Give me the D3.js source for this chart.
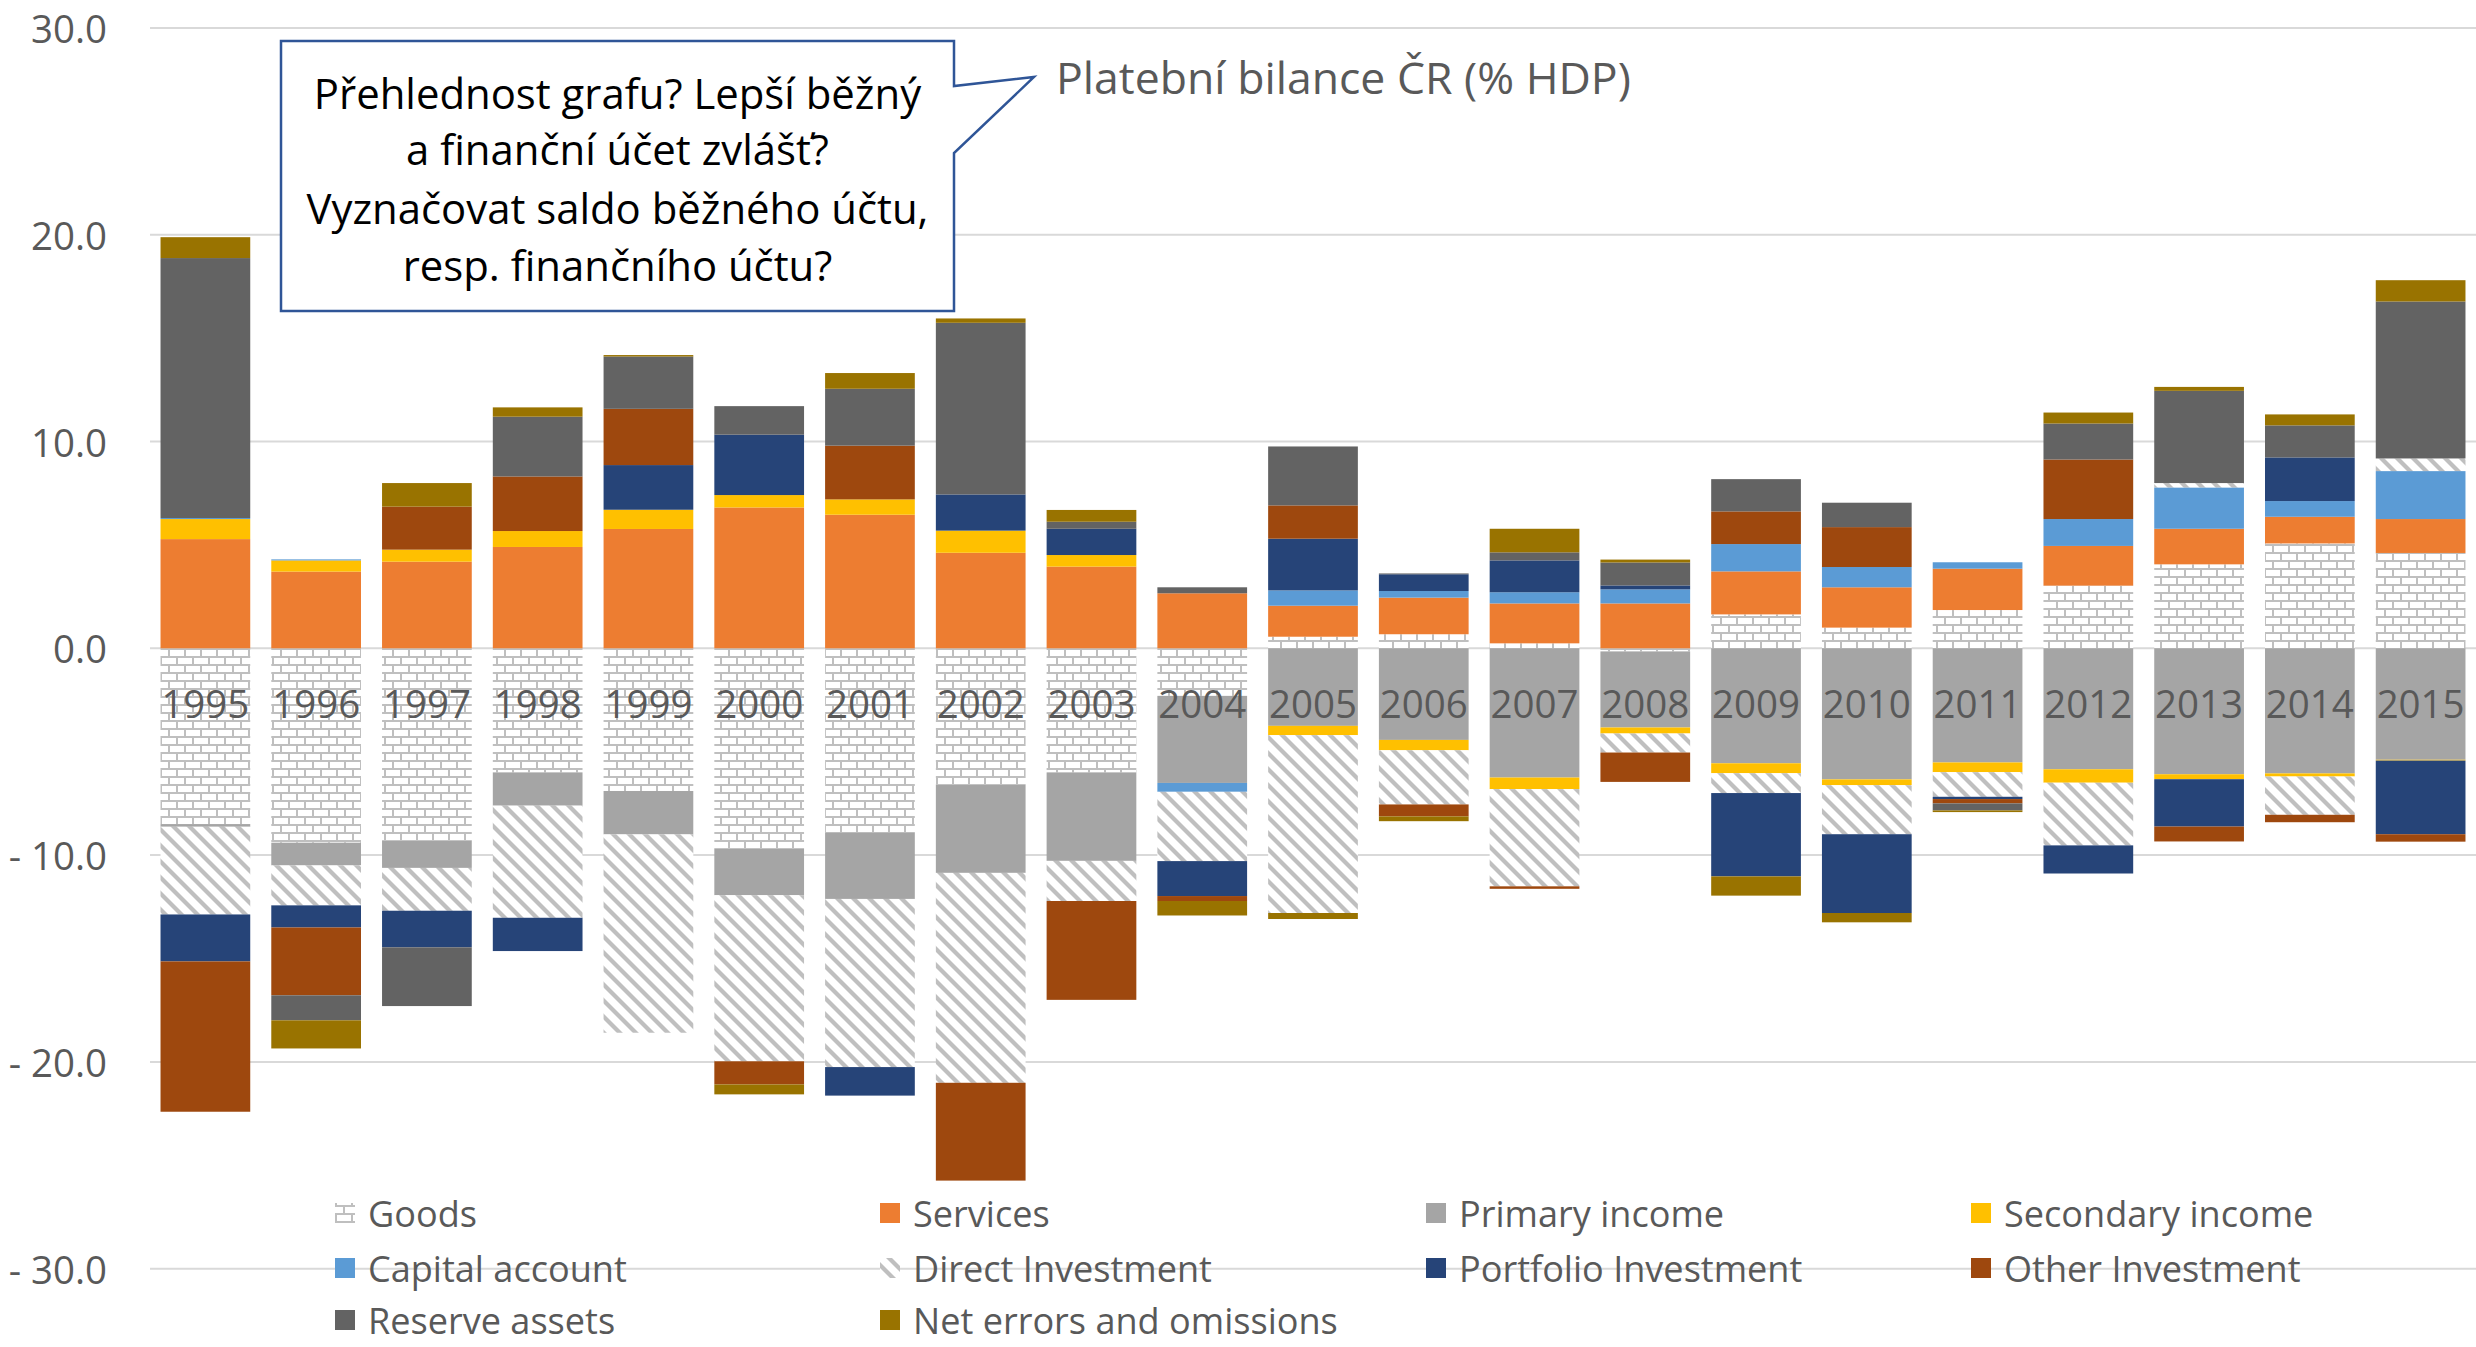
<!DOCTYPE html>
<html><head><meta charset="utf-8">
<script src="https://cdn.jsdelivr.net/npm/d3@7"></script>
<style>body{margin:0;background:#fff}</style></head>
<body><svg id="c" width="2476" height="1347"></svg>
<script>
// ---------------- data ----------------
const years = [1995,1996,1997,1998,1999,2000,2001,2002,2003,2004,2005,2006,2007,2008,2009,2010,2011,2012,2013,2014,2015];
const seriesNames = ["Goods","Services","Primary income","Secondary income","Capital account","Direct Investment","Portfolio Investment","Other Investment","Reserve assets","Net errors and omissions"];
const goods     = [-8.5,-9.4,-9.3,-6.0,-6.9,-9.7,-8.9,-6.6,-6.0,-2.3,0.56,0.68,0.24,-0.15,1.64,1.0,1.85,3.03,4.06,5.07,4.61];
const services  = [5.28,3.71,4.19,4.90,5.77,6.81,6.46,4.62,3.95,2.66,1.50,1.77,1.93,2.17,2.08,1.95,2.0,1.92,1.72,1.29,1.64];
const primary   = [-0.13,-1.1,-1.32,-1.61,-2.1,-2.24,-3.22,-4.26,-4.28,-4.21,-3.75,-4.43,-6.25,-3.68,-5.56,-6.34,-5.52,-5.85,-6.09,-6.05,-5.39];
const secondary = [0.97,0.54,0.58,0.77,0.93,0.60,0.74,1.07,0.56,0.0,-0.45,-0.5,-0.56,-0.29,-0.48,-0.28,-0.47,-0.65,-0.24,-0.15,-0.04];
const capital   = [0.05,0.05,0,0,0,0,0,0,0,-0.43,0.74,0.32,0.54,0.68,1.32,0.98,0.31,1.30,2.0,0.76,2.32];
const direct    = [-4.24,-1.93,-2.07,-5.42,-9.59,-8.03,-8.13,-10.15,-1.94,-3.35,-8.6,-2.62,-4.7,-0.92,-0.96,-2.37,-1.19,-3.03,0.21,-1.85,0.61];
const portfolio = [-2.27,-1.07,-1.77,-1.61,2.16,2.92,-1.38,1.75,1.27,-1.69,2.5,0.81,1.54,0.19,-4.03,-3.81,-0.11,-1.36,-2.29,2.11,-3.56];
const other     = [-7.27,-3.28,2.08,2.64,2.72,-1.12,2.6,-4.73,-4.78,-0.24,1.61,-0.58,-0.12,-1.42,1.58,1.93,-0.21,2.88,-0.72,-0.36,-0.36];
const reserve   = [12.57,-1.21,-2.84,2.89,2.53,1.38,2.75,8.30,0.34,0.29,2.85,0.04,0.39,1.11,1.56,1.18,-0.34,1.74,4.46,1.55,7.59];
const neo       = [1.01,-1.36,1.14,0.45,0.07,-0.48,0.76,0.21,0.57,-0.7,-0.29,-0.23,1.14,0.14,-0.93,-0.45,-0.08,0.53,0.19,0.53,1.03];
const yTicks = [-30,-20,-10,0,10,20,30];
const chartTitle = "Platební bilance ČR (% HDP)";
const annotationLines = ["Přehlednost grafu? Lepší běžný","a finanční účet zvlášť?","Vyznačovat saldo běžného účtu,","resp. finančního účtu?"];

// ---------------- build ----------------
const seriesValues = [goods,services,primary,secondary,capital,direct,portfolio,other,reserve,neo];
const fills = ["url(#brick)","#ED7D31","#A5A5A5","#FFC000","#5B9BD5","url(#diag)","#264478","#9E480E","#636363","#997300"];
const table = years.map((y,i)=>{const o={year:y}; seriesNames.forEach((s,k)=>o[s]=seriesValues[k][i]); return o;});
const stacked = d3.stack().keys(seriesNames).order(d3.stackOrderNone).offset(d3.stackOffsetDiverging)(table);

const W=2476,H=1347;
const svg=d3.select("#c");
const FONT="'Open Sans', 'Noto Sans', sans-serif";
const TXT="#595959";

const defs=svg.append("defs");
const pb=defs.append("pattern").attr("id","brick").attr("patternUnits","userSpaceOnUse").attr("width",16).attr("height",16);
pb.append("rect").attr("width",16).attr("height",16).attr("fill","#fff");
pb.append("rect").attr("x",0).attr("y",0).attr("width",16).attr("height",2).attr("fill","#BFBFBF");
pb.append("rect").attr("x",0).attr("y",8).attr("width",16).attr("height",2).attr("fill","#BFBFBF");
pb.append("rect").attr("x",0).attr("y",0).attr("width",2).attr("height",8).attr("fill","#BFBFBF");
pb.append("rect").attr("x",8).attr("y",8).attr("width",2).attr("height",8).attr("fill","#BFBFBF");
const pd=defs.append("pattern").attr("id","diag").attr("patternUnits","userSpaceOnUse").attr("width",16).attr("height",16);
pd.append("rect").attr("width",16).attr("height",16).attr("fill","#fff");
const sw=6;
pd.append("polygon").attr("points",`0,0 ${sw},0 16,${16-sw} 16,16`).attr("fill","#BFBFBF");
pd.append("polygon").attr("points",`0,${16-sw} 0,16 ${sw},16`).attr("fill","#BFBFBF");

const x=d3.scaleBand().domain(years).range([150,2476]).paddingInner(0.19).paddingOuter(0.095);
const y=d3.scaleLinear().domain([-30,30]).range([1268.7,27.9]);

// gridlines
svg.append("g").selectAll("line").data(yTicks).join("line")
  .attr("x1",150).attr("x2",W).attr("y1",d=>y(d)).attr("y2",d=>y(d))
  .attr("stroke","#D9D9D9").attr("stroke-width",2);

// y tick labels
const fmt=d3.format(".1f");
const tl=svg.append("g").selectAll("text").data(yTicks).join("text")
  .attr("x",107).attr("y",d=>y(d)).attr("text-anchor","end").attr("dominant-baseline","central")
  .attr("font-family",FONT).attr("font-size",40).attr("fill",TXT)
  .text(d=>d<0?"- "+fmt(-d):fmt(d));
{const n=tl.filter(d=>d===30).node(); const w=n.getComputedTextLength(); tl.attr("font-size",40*76/w);}

// bars
svg.append("g").selectAll("g").data(stacked).join("g")
  .attr("fill",(d,i)=>fills[i])
  .selectAll("rect").data(d=>d).join("rect")
  .attr("x",d=>x(d.data.year)).attr("width",x.bandwidth())
  .attr("y",d=>y(Math.max(d[0],d[1]))).attr("height",d=>Math.abs(y(d[0])-y(d[1])));

// year labels
const yl=svg.append("g").selectAll("text").data(years).join("text")
  .attr("x",d=>x(d)+x.bandwidth()/2).attr("y",y(0)+70).attr("text-anchor","middle")
  .attr("font-family",FONT).attr("font-size",40).attr("fill",TXT).text(d=>d);
{const n=yl.node(); const w=n.getComputedTextLength(); yl.attr("font-size",40*88/w);}

// legend
const legCols=[335,880,1426,1971], legRows=[1213,1268,1320];
const lg=svg.append("g").selectAll("g").data(seriesNames).join("g")
  .attr("transform",(d,i)=>`translate(${legCols[i%4]},${legRows[Math.floor(i/4)]})`);
lg.append("rect").attr("x",0).attr("y",-10).attr("width",20).attr("height",20).attr("fill",(d,i)=>fills[i]);
const lt=lg.append("text").attr("x",33).attr("y",0).attr("dominant-baseline","central")
  .attr("font-family",FONT).attr("font-size",36).attr("fill",TXT).text(d=>d);
{const n=lt.filter(d=>d==="Net errors and omissions").node(); const w=n.getComputedTextLength(); lt.attr("font-size",36*425/w);}

// annotation callout
const bx0=281,bx1=954,by0=41,by1=311;
svg.append("path")
  .attr("d",`M${bx0},${by0} L${bx1},${by0} L${bx1},86 L1034,77 L${bx1},153 L${bx1},${by1} L${bx0},${by1} Z`)
  .attr("fill","#fff").attr("stroke","#2F5597").attr("stroke-width",2.5);
const lineY=[92,148,207,264];
const at=svg.append("g").selectAll("text").data(annotationLines).join("text")
  .attr("x",(bx0+bx1)/2).attr("y",(d,i)=>lineY[i]).attr("text-anchor","middle").attr("dominant-baseline","central")
  .attr("font-family",FONT).attr("font-size",38).attr("fill","#000").text(d=>d);
{const n=at.filter((d,i)=>i===2).node(); const w=n.getComputedTextLength(); at.attr("font-size",38*622/w);}

const tt=svg.append("text").attr("x",1056).attr("y",76).attr("dominant-baseline","central")
  .attr("font-family",FONT).attr("font-size",40).attr("fill",TXT).text(chartTitle);
{const w=tt.node().getComputedTextLength(); tt.attr("font-size",40*575/w);}
</script>
</body></html>
